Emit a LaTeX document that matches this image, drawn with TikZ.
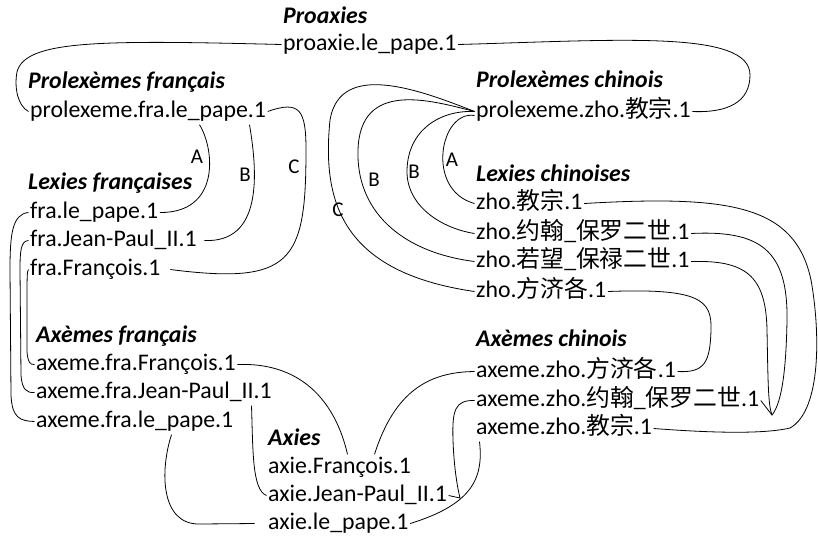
\documentclass[tikz,border=0pt]{standalone}
\usepackage{fontspec}
\setmainfont{Carlito}
\newfontfamily\cjk{Noto Sans CJK SC}
\newcommand{\zh}[1]{{\cjk #1}}

\begin{document}
\begin{tikzpicture}[x=1pt,y=-1pt]
    \useasboundingbox (0,0) rectangle (818,539);
    \begin{scope}[every node/.style={anchor=base west,inner sep=1.5pt,text height=17pt,text depth=6pt,font=\fontsize{23.8}{28}\selectfont},
                  head/.style={font=\fontsize{23.8}{28}\selectfont\bfseries\itshape}]
        \node[head] (hProax) at (281.5,23) {Proaxies};
        \node (prox) at (281.5,50) {proaxie.le\_pape.1};

        \node[head] (hPfra) at (26.5,88) {Prolexèmes français};
        \node (pfra) at (28.5,117) {prolexeme.fra.le\_pape.1};
        \node[head] (hPzho) at (474.5,87) {Prolexèmes chinois};
        \node (pzho) at (474.5,117) {prolexeme.zho.\zh{教宗}.1};

        \node[head] (hLfra) at (26.5,189) {Lexies françaises};
        \node (fle) at (28.5,218) {fra.le\_pape.1};
        \node (fjp) at (28.5,246) {fra.Jean-Paul\_II.1};
        \node (ffr) at (28.5,275) {fra.François.1};

        \node[head] (hLzho) at (474.5,181) {Lexies chinoises};
        \node (zjz) at (474.5,209) {zho.\zh{教宗}.1};
        \node (zyh) at (474.5,239) {zho.\zh{约翰}\_\zh{保罗二世}.1};
        \node (zrw) at (474.5,267) {zho.\zh{若望}\_\zh{保禄二世}.1};
        \node (zfj) at (474.5,297) {zho.\zh{方济各}.1};

        \node[head] (hAfra) at (34.5,342) {Axèmes français};
        \node (affr) at (34.5,370) {axeme.fra.François.1};
        \node (afjp) at (34.5,398) {axeme.fra.Jean-Paul\_II.1};
        \node (afle) at (34.5,427) {axeme.fra.le\_pape.1};

        \node[head] (hAzho) at (474.5,346) {Axèmes chinois};
        \node (azfj) at (474.5,377) {axeme.zho.\zh{方济各}.1};
        \node (azyh) at (474.5,406) {axeme.zho.\zh{约翰}\_\zh{保罗二世}.1};
        \node (azjz) at (474.5,434) {axeme.zho.\zh{教宗}.1};

        \node[head] (hAxie) at (266.5,445) {Axies};
        \node (axfr) at (266.5,473) {axie.François.1};
        \node (axjp) at (266.5,501) {axie.Jean-Paul\_II.1};
        \node (axlp) at (266.5,529) {axie.le\_pape.1};
    \end{scope}

    \begin{scope}[every node/.style={inner sep=0pt,font=\fontsize{21}{24}\selectfont}]
        \node (tagAf) at (197,157) {A};
        \node (tagBf) at (245,175) {B};
        \node (tagCf) at (294,167) {C};
        \node (tagAz) at (452,160) {A};
        \node (tagBz) at (414,172) {B};
        \node (tagBo) at (374,180) {B};
        \node (tagCz) at (338,210) {C};
    \end{scope}

    \begin{scope}[every path/.style={draw=black,line width=0.8pt}]
        % proaxie
        \draw (prox.west) .. controls (100,40) and (25,40) .. (17,72)
              .. controls (14,88) and (18,106) .. (pfra.west);
        \draw (prox.east) .. controls (620,40) and (750,30) .. (750,75)
              .. controls (750,102) and (728,113) .. (pzho.east);
        % prolexeme.fra
        \draw ([xshift=171pt]pfra.south west) .. controls (215,150) and (220,213) .. (fle.east);
        \draw ([xshift=221pt]pfra.south west) .. controls (258,175) and (262,243) .. ([xshift=6pt]fjp.east);
        \draw (pfra.east) .. controls (300,100) and (306,110) .. (306,150)
              .. controls (306,262) and (292,285) .. ([xshift=8pt]ffr.east);
        % prolexeme.zho
        \draw (pzho.west) .. controls (420,90) and (340,60) .. (330,120)
              .. controls (322,200) and (340,272) .. (zfj.west);
        \draw (pzho.west) .. controls (430,100) and (360,80) .. (358,150)
              .. controls (356,210) and (400,252) .. (zrw.west);
        \draw (pzho.west) .. controls (440,110) and (408,130) .. (407,170)
              .. controls (406,205) and (440,228) .. (zyh.west);
        \draw ([yshift=-4pt]pzho.west) .. controls (440,110) and (425,190) .. (zjz.west);
        % lexies chinoises
        \draw (zjz.east) .. controls (730,195) and (795,205) .. (811,280)
              .. controls (820,330) and (822,410) .. (790,428)
              .. controls (760,435) and (700,432) .. (azjz.east);
        \draw (zyh.east) .. controls (760,230) and (788,250) .. (787,320)
              .. controls (786,380) and (780,405) .. (772,415) -- (azyh.east);
        \draw (zrw.east) .. controls (745,260) and (766,275) .. (767,330)
              .. controls (768,380) and (768,405) .. (772,415);
        \draw (zfj.east) .. controls (700,288) and (712,300) .. (711,330)
              .. controls (710,362) and (705,373) .. (azfj.east);
        % lexies francaises
        \draw (fle.west) .. controls (12,214) and (10,235) .. (10,270) -- (11,395)
              .. controls (12,418) and (20,421) .. (afle.west);
        \draw (fjp.west) .. controls (21,241) and (20,250) .. (20,270) -- (21,375)
              .. controls (22,390) and (27,393) .. (afjp.west);
        \draw (ffr.west) .. controls (27,270) and (27,280) .. (27,300) -- (27,352)
              .. controls (28,362) and (30,365) .. (affr.west);
        % axemes
        \draw (affr.east) .. controls (300,362) and (335,400) .. ([xshift=81pt]axfr.north west);
        \draw (azfj.west) .. controls (430,372) and (395,390) .. ([xshift=108pt]axfr.north west);
        \draw ([xshift=217pt]afjp.south west) .. controls (253,450) and (252,490) .. (axjp.west);
        \draw (azyh.west) .. controls (455,400) and (452,410) .. (453,440)
              .. controls (454,470) and (458,490) .. (460,498) -- (axjp.east);
        \draw ([xshift=5pt]azjz.south west) .. controls (484,480) and (470,505) .. (axlp.east);
        \draw ([xshift=137pt]afle.south west) .. controls (160,470) and (160,525) .. (200,524)
              -- ([xshift=-12pt]axlp.west);
    \end{scope}
\end{tikzpicture}
\end{document}
